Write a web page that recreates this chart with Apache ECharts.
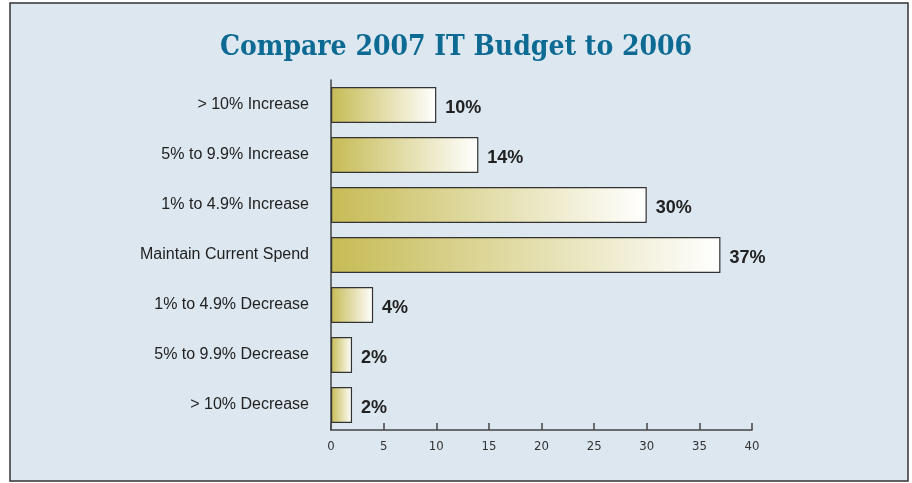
<!DOCTYPE html>
<html>
<head>
<meta charset="utf-8">
<script src="https://cdn.jsdelivr.net/npm/echarts@6/dist/echarts.min.js"></script>
<style>
  html, body { margin: 0; padding: 0; background: #ffffff; }
  #chart { width: 912px; height: 483px; }
</style>
</head>
<body>
<div id="chart"></div>
<script>
const categories = [
  '> 10% Increase',
  '5% to 9.9% Increase',
  '1% to 4.9% Increase',
  'Maintain Current Spend',
  '1% to 4.9% Decrease',
  '5% to 9.9% Decrease',
  '> 10% Decrease'
];
const values = [10, 14, 30, 37, 4, 2, 2];

const chart = echarts.init(document.getElementById('chart'));

const option = {
  animation: false,
  graphic: [
    {
      type: 'rect',
      z: -10,
      shape: { x: 10, y: 3, width: 898, height: 478 },
      style: { fill: '#dce7f0', stroke: '#333333', lineWidth: 1.5 }
    }
  ],
  title: {
    text: 'Compare 2007 IT Budget to 2006',
    left: 'center',
    top: 29,
    textStyle: {
      fontFamily: 'DejaVu Serif Condensed',
      fontWeight: 'bold',
      fontSize: 28,
      color: '#0c6a93'
    }
  },
  grid: { left: 331, right: 160, top: 80, bottom: 53 },
  xAxis: {
    type: 'value',
    min: 0,
    max: 40,
    interval: 5,
    axisLine: { show: true, lineStyle: { color: '#444', width: 1.5 } },
    axisTick: { show: true, inside: true, length: 7, lineStyle: { color: '#444', width: 1.5 } },
    axisLabel: { color: '#333', fontSize: 13, margin: 10, fontFamily: 'DejaVu Sans Condensed' },
    splitLine: { show: false }
  },
  yAxis: {
    type: 'category',
    data: categories,
    inverse: true,
    axisLine: { show: true, lineStyle: { color: '#444', width: 1.5 } },
    axisTick: { show: false },
    axisLabel: { color: '#222', fontSize: 16, margin: 22, fontFamily: 'Liberation Sans' }
  },
  series: [
    {
      type: 'bar',
      data: values,
      barWidth: '72%',
      itemStyle: {
        color: new echarts.graphic.LinearGradient(0, 0, 1, 0, [
          { offset: 0, color: '#c6bb55' },
          { offset: 1, color: '#ffffff' }
        ]),
        borderColor: '#333333',
        borderWidth: 1.2
      },
      label: {
        show: true,
        position: 'right',
        distance: 9,
        offset: [0, 3],
        formatter: '{c}%',
        color: '#222',
        fontSize: 18,
        fontWeight: 'bold',
        fontFamily: 'Liberation Sans'
      }
    }
  ]
};

chart.setOption(option);
</script>
</body>
</html>
